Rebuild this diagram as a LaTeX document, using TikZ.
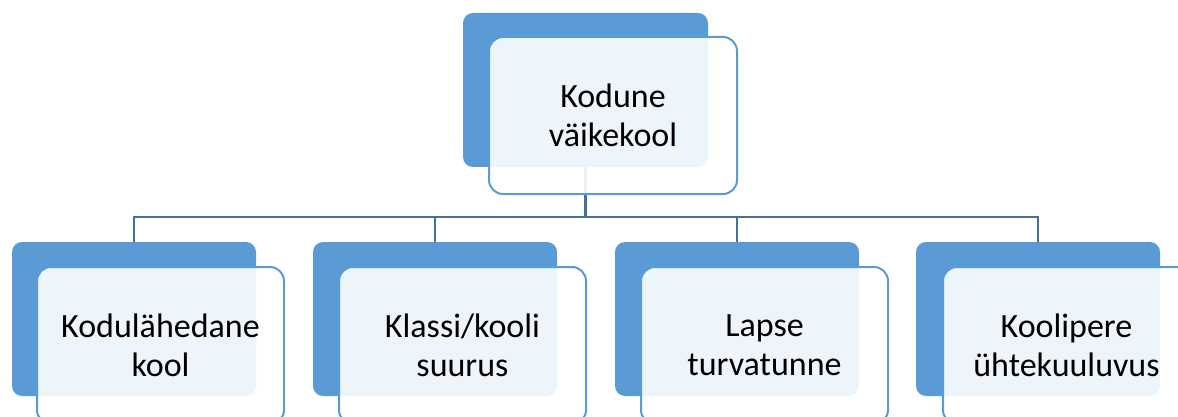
\documentclass[tikz,border=0pt]{standalone}
\usepackage{fontspec}
\setmainfont{Carlito}
\definecolor{accent}{RGB}{91,155,213}
\definecolor{linkc}{RGB}{65,113,156}
\definecolor{txt}{RGB}{0,0,0}
\begin{document}
\begin{tikzpicture}[x=1pt,y=-1pt,
  back/.style={fill=accent, rounded corners=10pt, inner sep=0pt, outer sep=0pt, anchor=north west, minimum width=244pt, minimum height=154pt},
  front/.style={draw=accent, line width=2pt, fill=white, fill opacity=0.9, text opacity=1, text=txt, rounded corners=14pt, anchor=north west, minimum width=247pt, minimum height=157pt, inner sep=0pt, outer sep=0pt, align=center, font=\fontsize{34}{39}\selectfont},
  link/.style={draw=linkc, line width=2.6pt}]
\useasboundingbox (0,0) rectangle (1178,417);
\clip (0,0) rectangle (1178,417);
% back plates
\node[back, minimum width=245pt] (b0) at (463,13) {};
\node[back] (b1) at (12,242) {};
\node[back] (b2) at (313,242) {};
\node[back] (b3) at (615,242) {};
\node[back] (b4) at (916,242) {};
% connectors
\coordinate (hub) at (b0.south |- 0,217);
\draw[link] (b0.south) -- (hub);
\draw[link] (hub) -| (b1.north);
\draw[link] (hub) -| (b2.north);
\draw[link] (hub) -| (b3.north);
\draw[link] (hub) -| (b4.north);
% front cards
\node[front, minimum width=248pt] (o0) at (489,37) {Kodune\\väikekool};
\node[front] (o1) at (37,267) {Kodulähedane\\kool};
\node[front] (o2) at (339,267) {Klassi/kooli\\suurus};
\node[front] (o3) at (641,267) {Lapse\\turvatunne};
\node[front] (o4) at (943,267) {Koolipere\\ühtekuuluvus};
\end{tikzpicture}
\end{document}
